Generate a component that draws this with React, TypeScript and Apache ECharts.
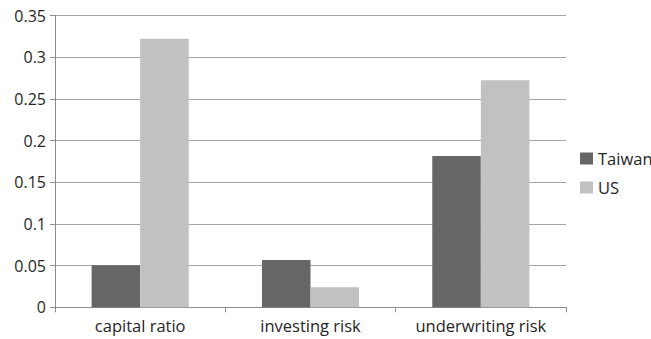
import React, { useEffect, useRef } from "react";
import * as echarts from "echarts";

const categories = ["capital ratio", "investing risk", "underwriting risk"];
const taiwan = [0.0505, 0.0568, 0.1816];
const us = [0.3223, 0.024, 0.2724];
const yTicks = [0, 0.05, 0.1, 0.15, 0.2, 0.25, 0.3, 0.35];

const FONT = "'Open Sans', sans-serif";

export default function App() {
  const ref = useRef<HTMLDivElement>(null);
  useEffect(() => {
    if (!ref.current) return;
    const chart = echarts.init(ref.current, undefined, { renderer: "svg" });
    chart.setOption({
      animation: false,
      backgroundColor: "#ffffff",
      textStyle: { fontFamily: FONT },
      grid: { left: 55, right: 85, top: 15.6, bottom: 31.7, containLabel: false },
      legend: {
        orient: "vertical",
        left: 575,
        top: 145,
        itemWidth: 13,
        itemHeight: 12,
        itemGap: 12,
        icon: "rect",
        textStyle: { fontFamily: FONT, fontSize: 16.5, lineHeight: 17, color: "#262626" },
        data: ["Taiwan", "US"],
      },
      xAxis: {
        type: "category",
        data: categories,
        boundaryGap: true,
        axisLine: { show: true, lineStyle: { color: "#8c8c8c", width: 1 } },
        axisTick: { show: true, length: 5, lineStyle: { color: "#8c8c8c" } },
        axisLabel: { fontFamily: FONT, fontSize: 16.5, color: "#262626", margin: 10 },
      },
      yAxis: {
        type: "value",
        min: 0,
        max: 0.35,
        interval: 0.05,
        axisLine: { show: true, lineStyle: { color: "#8c8c8c", width: 1 } },
        axisTick: { show: true, length: 5, lineStyle: { color: "#8c8c8c" } },
        splitLine: { show: true, lineStyle: { color: "#a6a6a6", width: 1 } },
        axisLabel: {
          fontFamily: FONT,
          fontSize: 16,
          color: "#262626",
          margin: 9,
          formatter: (v: number) => {
            const t = yTicks.find((x) => Math.abs(x - v) < 1e-9);
            return t === undefined ? "" : String(Number(t.toFixed(2)));
          },
        },
      },
      series: [
        {
          name: "Taiwan",
          type: "bar",
          data: taiwan,
          itemStyle: { color: "#666666" },
          barWidth: "28.5%",
          barGap: "0%",
        },
        {
          name: "US",
          type: "bar",
          data: us,
          itemStyle: { color: "#c1c1c1" },
          barWidth: "28.5%",
          barGap: "0%",
        },
      ],
    });
    return () => chart.dispose();
  }, []);
  return <div ref={ref} style={{ width: 651, height: 339, position: "absolute", left: 0, top: 0 }} />;
}
